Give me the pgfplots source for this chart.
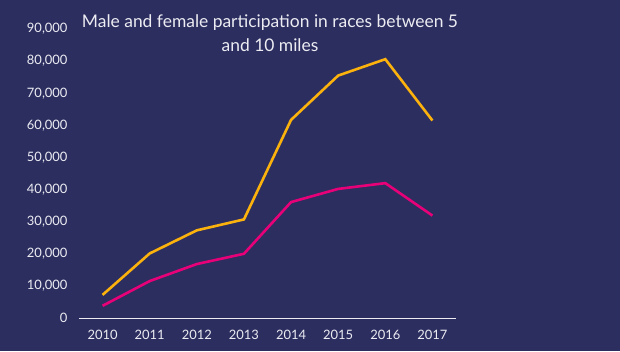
\documentclass[border=0pt]{standalone}
\usepackage{pgfplots}
\pgfplotsset{compat=1.18}
\usepackage{fontspec}
\setmainfont{Lato}
\definecolor{bg}{RGB}{44,46,96}
\definecolor{orng}{RGB}{252,178,12}
\definecolor{mgnt}{RGB}{232,0,120}
\definecolor{txt}{RGB}{236,236,242}
\begin{document}
\begin{tikzpicture}[x=1bp,y=1bp]
\fill[bg] (0,0) rectangle (620,351);
\node[text=txt, align=center, font=\fontsize{17.5}{24.5}\selectfont] at (270,318) {Male and female participation in races between 5\\and 10 miles};
\begin{axis}[
  at={(79bp,33bp)}, anchor=south west,
  scale only axis, width=377bp, height=289bp,
  xmin=2009.5, xmax=2017.5, ymin=0, ymax=90000,
  xtick={2010,...,2017}, ytick={0,10000,...,90000},
  axis x line=bottom, axis y line=left,
  axis line style={-},
  x axis line style={draw=txt, line width=0.8bp},
  y axis line style={draw=none},
  major tick length=0pt,
  tick label style={text=txt, font=\fontsize{13}{15}\selectfont},
  xticklabel style={/pgf/number format/1000 sep={}, yshift=-9bp},
  yticklabel style={/pgf/number format/1000 sep={,}, xshift=-8bp},
  /pgf/number format/assume math mode=true,
  scaled y ticks=false,
  clip=false,
]
\addplot[orng, line width=2.6bp] coordinates {
(2010,7200) (2011,20100) (2012,27300) (2013,30700) (2014,61700) (2015,75500) (2016,80600) (2017,61500)};
\addplot[mgnt, line width=2.6bp] coordinates {
(2010,3800) (2011,11500) (2012,16800) (2013,20000) (2014,36100) (2015,40200) (2016,42000) (2017,31900)};
\end{axis}
\end{tikzpicture}
\end{document}
